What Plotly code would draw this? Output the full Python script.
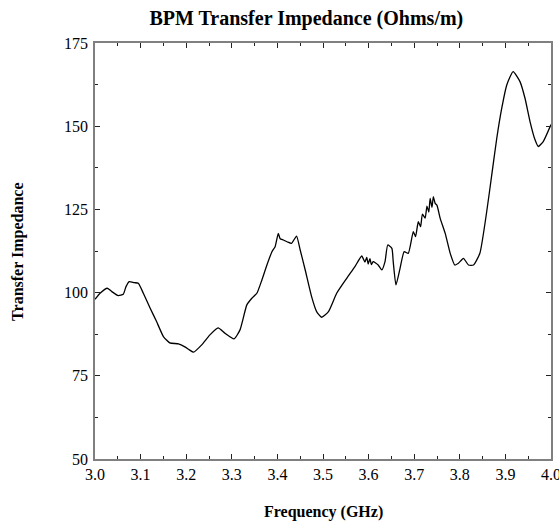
import plotly.graph_objects as go

# Frequency (GHz) and transfer impedance (Ohms/m)
freq = [3.000, 3.011, 3.027, 3.037, 3.051, 3.062, 3.068, 3.075, 3.086, 3.095,
        3.106, 3.121, 3.135, 3.150, 3.164, 3.183, 3.197, 3.207, 3.216, 3.234,
        3.252, 3.270, 3.285, 3.305, 3.318, 3.333, 3.344, 3.355, 3.366, 3.377,
        3.388, 3.395, 3.402, 3.406, 3.413, 3.422, 3.431, 3.442, 3.450, 3.461,
        3.475, 3.486, 3.497, 3.512, 3.530, 3.552, 3.570, 3.585, 3.592, 3.596,
        3.599, 3.603, 3.606, 3.610, 3.621, 3.629, 3.636, 3.642, 3.651, 3.654,
        3.660, 3.669, 3.678, 3.687, 3.698, 3.703, 3.709, 3.714, 3.718, 3.724,
        3.728, 3.732, 3.735, 3.739, 3.742, 3.746, 3.750, 3.757, 3.768, 3.779,
        3.789, 3.797, 3.808, 3.819, 3.830, 3.844, 3.859, 3.870, 3.881, 3.892,
        3.903, 3.917, 3.932, 3.943, 3.954, 3.965, 3.972, 3.983, 4.000]
impedance = [98.0, 99.8, 101.3, 100.3, 99.1, 99.5, 101.8, 103.3, 103.0, 102.8,
             99.8, 95.3, 91.3, 86.8, 84.9, 84.6, 83.7, 82.8, 82.1, 84.3,
             87.3, 89.4, 87.8, 86.1, 88.8, 96.3, 98.3, 99.8, 103.8, 108.3,
             112.3, 113.8, 117.8, 116.2, 115.8, 115.2, 114.8, 117.0, 112.8, 106.8,
             98.8, 94.3, 92.6, 94.3, 99.8, 104.3, 107.8, 111.0, 109.2, 110.6,
             108.6, 110.2, 108.4, 109.3, 108.3, 106.8, 109.3, 114.3, 113.3, 109.3,
             102.3, 107.3, 112.3, 111.8, 118.3, 116.8, 121.3, 119.8, 123.6, 122.4,
             126.0, 124.2, 128.3, 125.6, 128.8, 126.8, 126.2, 122.3, 117.8, 111.8,
             108.3, 108.8, 110.3, 108.3, 108.3, 111.8, 124.3, 135.3, 146.3, 155.4,
             162.4, 166.4, 163.4, 158.4, 151.4, 145.9, 143.9, 145.4, 150.5]

x_ticks = [3.0, 3.1, 3.2, 3.3, 3.4, 3.5, 3.6, 3.7, 3.8, 3.9, 4.0]
x_tick_labels = ["3.0", "3.1", "3.2", "3.3", "3.4", "3.5", "3.6", "3.7", "3.8", "3.9", "4.0"]
y_ticks = [50, 75, 100, 125, 150, 175]
y_tick_labels = ["50", "75", "100", "125", "150", "175"]

serif = "Liberation Serif, Times New Roman, serif"

fig = go.Figure()
fig.add_trace(go.Scatter(x=freq, y=impedance, mode="lines",
                         line=dict(color="black", width=1.3, shape="spline", smoothing=0.5),
                         showlegend=False))

def axis_style(minor_dtick, minor_tick0):
    return dict(
        automargin=False, ticklabeloverflow="allow",
        showgrid=False, zeroline=False, showline=True, linecolor="#808080", linewidth=1.5,
        mirror="allticks", ticks="inside", ticklen=5, tickcolor="#222", tickwidth=1,
        tickfont=dict(family=serif, size=16, color="black"),
        minor=dict(ticks="inside", ticklen=3, tickcolor="#222", tickwidth=1,
                   dtick=minor_dtick, tick0=minor_tick0),
    )

fig.update_layout(
    width=559, height=523,
    margin=dict(l=95, r=8, t=43, b=64),
    paper_bgcolor="white", plot_bgcolor="white",
    title=dict(text="<b>BPM Transfer Impedance (Ohms/m)</b>", x=0.548, xanchor="center",
               y=0.966, yanchor="middle",
               font=dict(family=serif, size=20, color="black")),
    xaxis=dict(range=[3.0, 4.0], tickvals=x_ticks, ticktext=x_tick_labels,
               **axis_style(0.05, 3.0)),
    yaxis=dict(range=[50, 175], tickvals=y_ticks, ticktext=y_tick_labels,
               ticklabelstandoff=2, **axis_style(12.5, 50)),
    annotations=[
        dict(text="<b>Frequency (GHz)</b>", xref="paper", yref="paper",
             x=0.5, y=-0.127, xanchor="center", yanchor="middle", showarrow=False,
             font=dict(family=serif, size=16, color="black")),
        dict(text="<b>Transfer Impedance</b>", xref="paper", yref="paper",
             x=-0.169, y=0.5, xanchor="center", yanchor="middle", showarrow=False,
             textangle=-90, font=dict(family=serif, size=16, color="black")),
    ],
)

fig.write_html("out.html", config={"displayModeBar": False},
               post_script="document.body.style.margin='0';document.body.style.overflow='hidden';")
